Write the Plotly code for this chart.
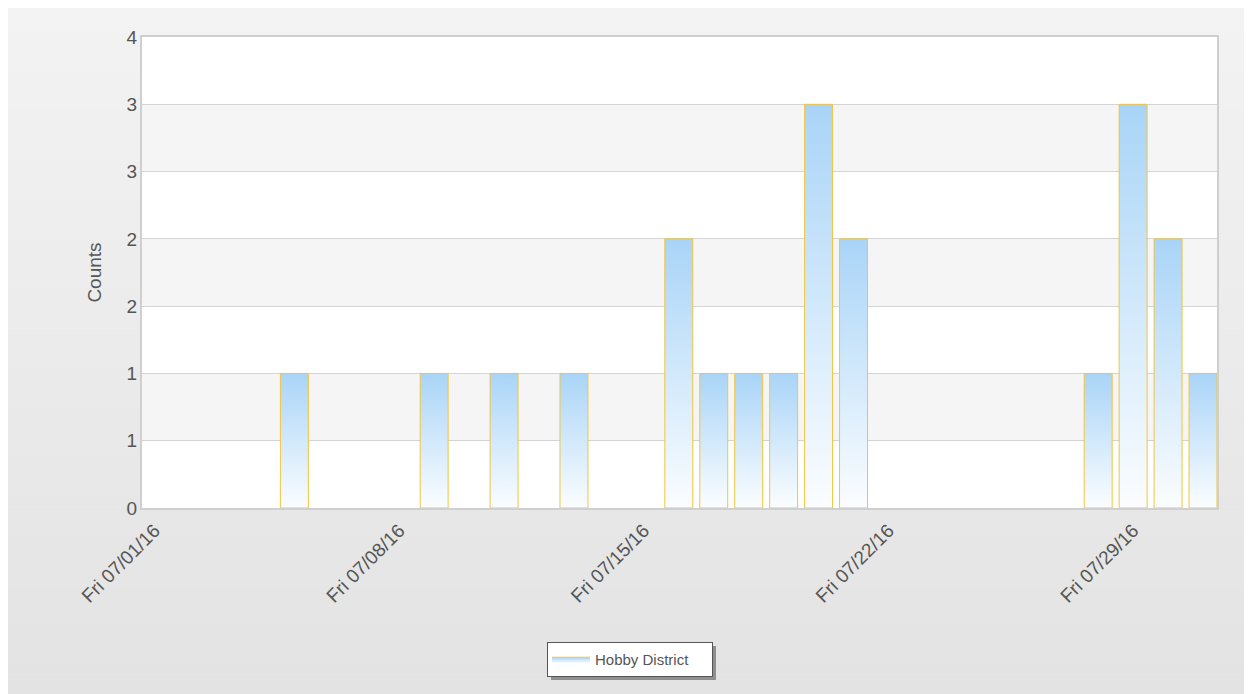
import plotly.graph_objects as go
import pandas as pd

# ---------------- data ----------------
dates = ["2016-07-05", "2016-07-09", "2016-07-11", "2016-07-13", "2016-07-16",
         "2016-07-17", "2016-07-18", "2016-07-19", "2016-07-20", "2016-07-21",
         "2016-07-28", "2016-07-29", "2016-07-30", "2016-07-31"]
counts = [1, 1, 1, 1, 2, 1, 1, 1, 3, 2, 1, 3, 2, 1]
series_name = "Hobby District"
y_title = "Counts"
y_tick_values = [0, 0.5, 1, 1.5, 2, 2.5, 3, 3.5]
y_tick_labels = ["0", "1", "1", "2", "2", "3", "3", "4"]
x_tick_dates = ["2016-07-01", "2016-07-08", "2016-07-15", "2016-07-22", "2016-07-29"]
x_range = ["2016-06-30 15:21:36", "2016-07-31 09:36:00"]

# ---------------- layout geometry (figure pixels; page has 8px body margin) ----------------
OFF = 8
W, H = 1252 - OFF, 694 - OFF
L, R, T, B = 142 - OFF, 1252 - 1217, 37 - OFF, 694 - 508
PW, PH = W - L - R, H - T - B


def px_x(page_px):
    return (page_px - OFF - L) / PW


def px_y(page_py):
    return (H - B - (page_py - OFF)) / PH


BAR_TOP = "#a9d4f7"
BAR_BOTTOM = "#fbfdff"
BAR_EDGE = "#f2c53d"
TEXT = "#555555"
FONT = "Liberation Sans, Arial, sans-serif"

fig = go.Figure()

half = pd.Timedelta(hours=9.6)
for i, (d, v) in enumerate(zip(dates, counts)):
    c = pd.Timestamp(d)
    xs = [c - half, c - half, c + half, c + half, c - half]
    ys = [0, v, v, 0, 0]
    fig.add_trace(go.Scatter(
        x=xs, y=ys, mode="lines", fill="toself",
        fillgradient=dict(type="vertical",
                          colorscale=[[0, BAR_BOTTOM], [1, BAR_TOP]],
                          start=0, stop=v),
        line=dict(color=BAR_EDGE, width=1),
        name=series_name, legendgroup="s", showlegend=(i == 0),
        hoverinfo="x+y",
    ))

shapes = []
# outer gradient background (page y 2 -> 694)
N = 70
top_c = (0xf3, 0xf3, 0xf3)
bot_c = (0xe3, 0xe3, 0xe3)
y_start, y_end = 2, 694
for k in range(N):
    t = k / (N - 1)
    col = tuple(round(a + (b - a) * t) for a, b in zip(top_c, bot_c))
    py0 = y_start + (y_end - y_start) * k / N
    py1 = y_start + (y_end - y_start) * (k + 1) / N + 0.6
    shapes.append(dict(type="rect", xref="paper", yref="paper",
                       x0=px_x(0), x1=px_x(1260), y0=px_y(py1), y1=px_y(py0),
                       fillcolor="rgb(%d,%d,%d)" % col, line=dict(width=0),
                       layer="below"))

# white plot area
shapes.append(dict(type="rect", xref="x domain", yref="y domain",
                   x0=0, x1=1, y0=0, y1=1, fillcolor="#ffffff",
                   line=dict(width=0), layer="below"))
# alternating bands in the plot area
for idx, a in enumerate(y_tick_values):
    if idx % 2 == 1:
        shapes.append(dict(type="rect", xref="x domain", yref="y",
                           x0=0, x1=1, y0=a, y1=a + 0.5,
                           fillcolor="#f5f5f5", line=dict(width=0), layer="below"))

# legend shadow
shapes.append(dict(type="rect", xref="paper", yref="paper",
                   x0=px_x(551), x1=px_x(716), y0=px_y(680), y1=px_y(646),
                   fillcolor="#8f8f8f", line=dict(width=0), layer="above"))

fig.update_layout(
    width=W, height=H,
    margin=dict(l=L, r=R, t=T, b=B, pad=0),
    paper_bgcolor="#ffffff",
    plot_bgcolor="#ffffff",
    font=dict(family=FONT, size=19, color=TEXT),
    shapes=shapes,
    showlegend=True,
    legend=dict(
        orientation="h",
        xref="container", yref="container",
        x=0.5, xanchor="center",
        y=1 - (642 - OFF) / H, yanchor="top",
        bgcolor="#ffffff", bordercolor="#555555", borderwidth=1,
        font=dict(size=15, color=TEXT),
        itemwidth=38, entrywidth=112,
    ),
    xaxis=dict(
        type="date", range=x_range,
        tickvals=x_tick_dates, tickformat="%a %m/%d/%y", tickangle=-45,
        showgrid=False, zeroline=False,
        showline=True, linecolor="#cfcfcf", linewidth=2, mirror=True,
        ticks="", ticklabelstandoff=2, tickfont=dict(size=19, color=TEXT),
    ),
    yaxis=dict(
        range=[0, 3.5], tickvals=y_tick_values, ticktext=y_tick_labels,
        showgrid=True, gridcolor="#d4d4d4", gridwidth=1, zeroline=False,
        showline=True, linecolor="#cfcfcf", linewidth=2, mirror=True,
        ticks="", ticklabelstandoff=-1, tickfont=dict(size=19, color=TEXT),
        title=dict(text=y_title, font=dict(size=19, color=TEXT), standoff=20),
    ),
)

fig.write_html("out.html")
